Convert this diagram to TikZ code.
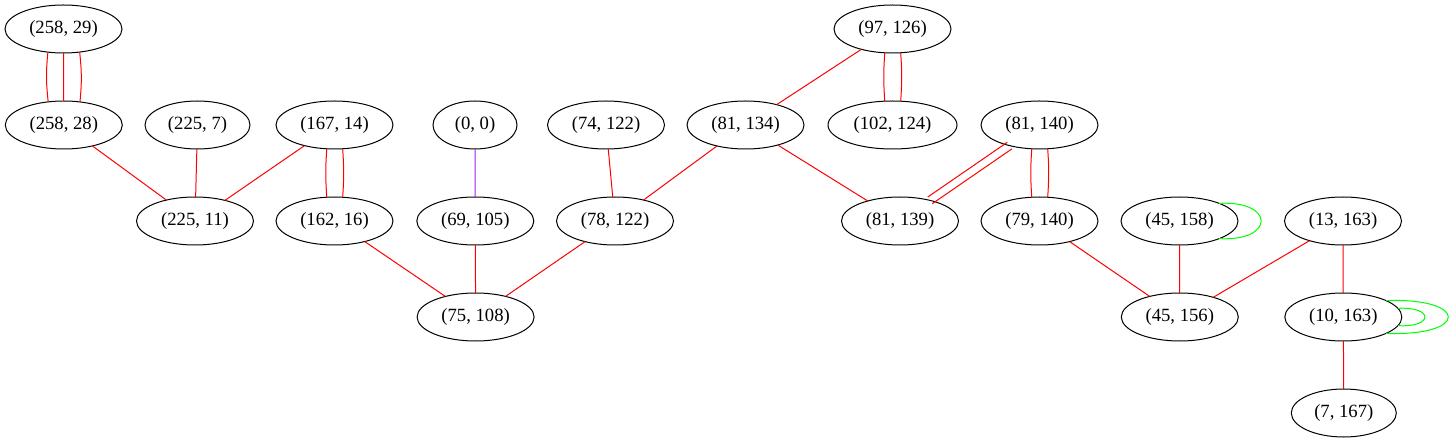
\documentclass[tikz,border=0pt]{standalone}
\usepackage{fontspec}
\setmainfont{Liberation Serif}
\usetikzlibrary{shapes.geometric}
\begin{document}
\begin{tikzpicture}[x=1pt,y=1pt,
  nd/.style={draw=black,line width=1pt,ellipse,inner sep=0pt,outer sep=0pt,minimum height=48pt,minimum width=117pt,font=\fontsize{18.67}{22}\selectfont},
  redge/.style={draw=red,line width=1pt},
  pedge/.style={draw={rgb,255:red,160;green,32;blue,240},line width=1pt},
  gedge/.style={draw={rgb,255:red,0;green,255;blue,0},line width=1pt}]
\useasboundingbox (0,0) rectangle (1455,-443);
\node[nd] (a1) at (63.5,-29) {(258, 29)};
\node[nd] (a2) at (63.8,-125) {(258, 28)};
\node[nd,minimum width=105pt] (b) at (197.5,-125) {(225, 7)};
\node[nd] (c) at (334.5,-125) {(167, 14)};
\node[nd,minimum width=84pt] (d) at (475,-125) {(0, 0)};
\node[nd] (e) at (606,-125) {(74, 122)};
\node[nd] (f) at (745.5,-125) {(81, 134)};
\node[nd] (g) at (892.5,-29) {(97, 126)};
\node[nd,minimum width=129pt] (h) at (892.5,-125) {(102, 124)};
\node[nd] (i) at (1039.5,-125) {(81, 140)};
\node[nd] (j) at (195,-221) {(225, 11)};
\node[nd] (k) at (334.5,-221) {(162, 16)};
\node[nd] (l) at (475.3,-221) {(69, 105)};
\node[nd] (m) at (615,-221) {(78, 122)};
\node[nd] (n) at (900,-221) {(81, 139)};
\node[nd] (o) at (1039.5,-221) {(79, 140)};
\node[nd] (p) at (1179.5,-221) {(45, 158)};
\node[nd] (q) at (1343,-221) {(13, 163)};
\node[nd] (r) at (475.6,-317) {(75, 108)};
\node[nd] (s) at (1179.8,-317) {(45, 156)};
\node[nd] (t) at (1343.3,-317) {(10, 163)};
\node[nd,minimum width=105pt] (u) at (1343.8,-413) {(7, 167)};
% triple edge
\draw[redge] (a1.-124.7) to[bend right=6] (a2.124.7);
\draw[redge] (a1) -- (a2);
\draw[redge] (a1.-55.3) to[bend left=6] (a2.55.3);
% double edges
\draw[redge] (c.-108.6) to[bend right=4] (k.108.6);
\draw[redge] (c.-71.4) to[bend left=4] (k.71.4);
\draw[redge] (g.-108.6) to[bend right=4] (h.108.6);
\draw[redge] (g.-71.4) to[bend left=4] (h.71.4);
\draw[redge] (i.-108.6) to[bend right=4] (o.108.6);
\draw[redge] (i.-71.4) to[bend left=4] (o.71.4);
\draw[redge,transform canvas={xshift=-2.3pt,yshift=3.3pt}] (i) -- (n);
\draw[redge,transform canvas={xshift=2.3pt,yshift=-3.3pt}] (i) -- (n);
% single edges
\draw[redge] (a2) -- (j);
\draw[redge] (b) -- (j);
\draw[redge] (c) -- (j);
\draw[pedge] (d) -- (l);
\draw[redge] (e) -- (m);
\draw[redge] (f) -- (m);
\draw[redge] (g) -- (f);
\draw[redge] (f) -- (n);
\draw[redge] (k) -- (r);
\draw[redge] (l) -- (r);
\draw[redge] (m) -- (r);
\draw[redge] (o) -- (s);
\draw[redge] (p) -- (s);
\draw[redge] (q) -- (s);
\draw[redge] (q) -- (t);
\draw[redge] (t) -- (u);
% loops
\draw[gedge] (p.24) .. controls +(56pt,3pt) and +(56pt,-3pt) .. (p.-24);
\draw[gedge] (t.9.3) .. controls +(36pt,2pt) and +(36pt,-2pt) .. (t.-9.3);
\draw[gedge] (t.21.1) .. controls +(83pt,3pt) and +(83pt,-3pt) .. (t.-21.1);
\end{tikzpicture}
\end{document}
